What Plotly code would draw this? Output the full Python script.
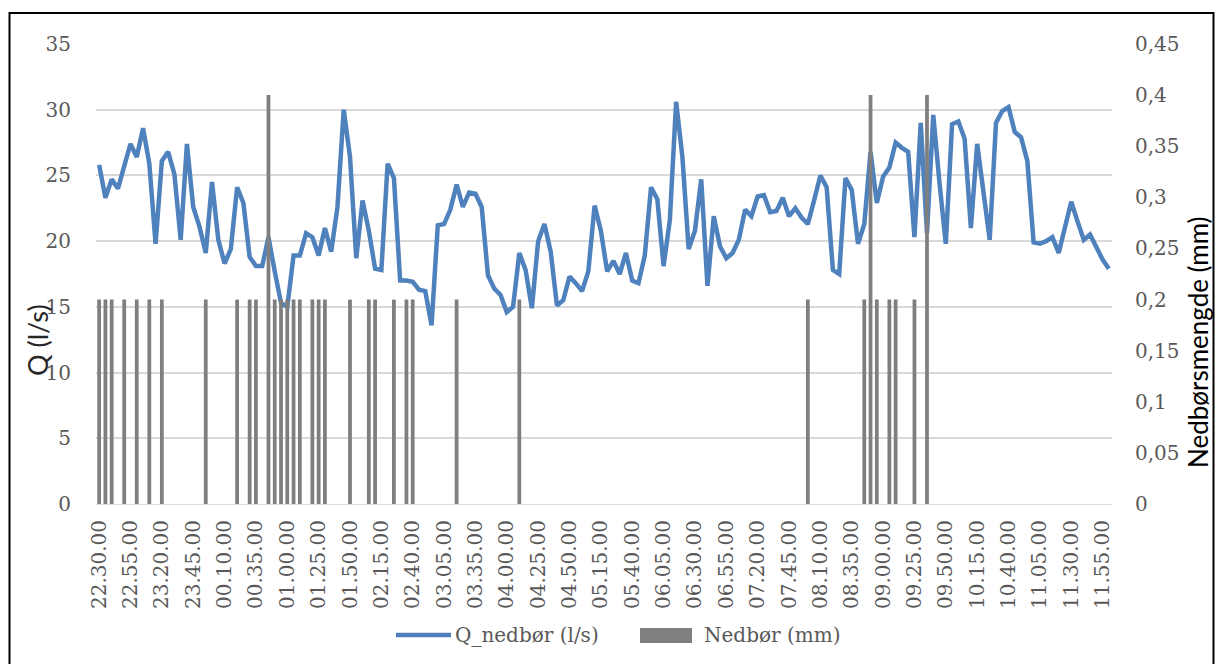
import plotly.graph_objects as go
from datetime import datetime, timedelta

# 5-minute time stamps, 22.30.00 -> 12.00.00 (the 03.10 reading is absent)
times = []
t = datetime(2000, 1, 1, 22, 30)
while len(times) < 162:
    if t.strftime("%H.%M") != "03.10":
        times.append(t.strftime("%H.%M.%S"))
    t += timedelta(minutes=5)

# Flow Q_nedbør (l/s), one value per time stamp
q_nedbor = [
    25.8, 23.3, 24.7, 24.0, 25.7, 27.4, 26.4, 28.6, 25.9, 19.8,
    26.1, 26.8, 25.1, 20.1, 27.4, 22.6, 21.1, 19.1, 24.5, 20.1,
    18.3, 19.4, 24.1, 22.9, 18.8, 18.1, 18.1, 20.3, 17.7, 15.3,
    15.0, 18.9, 18.9, 20.6, 20.3, 18.9, 21.0, 19.2, 22.6, 30.0,
    26.4, 18.7, 23.1, 20.8, 17.9, 17.8, 25.9, 24.8, 17.0, 17.0,
    16.9, 16.3, 16.2, 13.6, 21.2, 21.3, 22.4, 24.3, 22.6, 23.7,
    23.6, 22.6, 17.4, 16.4, 15.9, 14.6, 15.0, 19.1, 17.8, 14.9,
    20.0, 21.3, 19.2, 15.1, 15.5, 17.3, 16.8, 16.2, 17.7, 22.7,
    20.8, 17.7, 18.5, 17.5, 19.1, 17.0, 16.8, 18.9, 24.1, 23.2,
    18.1, 21.6, 30.6, 26.4, 19.4, 20.8, 24.7, 16.6, 21.9, 19.6,
    18.7, 19.1, 20.1, 22.4, 21.9, 23.4, 23.5, 22.2, 22.3, 23.3,
    21.9, 22.5, 21.8, 21.3, 23.1, 25.0, 24.1, 17.8, 17.5, 24.8,
    23.9, 19.8, 21.3, 26.8, 22.9, 24.9, 25.6, 27.5, 27.1, 26.8,
    20.3, 29.0, 20.6, 29.6, 24.4, 19.8, 28.9, 29.1, 27.8, 21.0,
    27.4, 23.9, 20.1, 29.0, 29.9, 30.2, 28.3, 27.9, 26.1, 19.9,
    19.8, 20.0, 20.3, 19.1, 21.1, 23.0, 21.5, 20.1, 20.5, 19.6,
    18.6, 17.9,
]

# Precipitation (mm): time-stamp positions with rain, and the amount
nedbor_slot = [0, 1, 2, 4, 6, 8, 10, 17, 22, 24, 25, 27, 28, 29, 30, 31, 32,
               34, 35, 36, 40, 43, 44, 47, 49, 50, 57, 67, 113, 122, 123, 124,
               126, 127, 130, 132]
nedbor_mm = [0.2, 0.2, 0.2, 0.2, 0.2, 0.2, 0.2, 0.2, 0.2, 0.2, 0.2, 0.4, 0.2,
             0.2, 0.2, 0.2, 0.2, 0.2, 0.2, 0.2, 0.2, 0.2, 0.2, 0.2, 0.2, 0.2,
             0.2, 0.2, 0.2, 0.2, 0.4, 0.2, 0.2, 0.2, 0.2, 0.4]

nedbor_time = [times[i] for i in nedbor_slot]

SERIF = "DejaVu Serif"
SANS = "Lato"
TICK_COL = "#595959"
Q_COL = "#4F81BD"
BAR_COL = "#7F7F7F"

fig = go.Figure()
fig.add_trace(go.Scatter(
    x=times, y=q_nedbor, mode="lines", name="Q_nedbør (l/s)",
    line=dict(color=Q_COL, width=4.5), yaxis="y", showlegend=False,
))
fig.add_trace(go.Bar(
    x=nedbor_time, y=nedbor_mm, name="Nedbør (mm)", yaxis="y2",
    marker=dict(color=BAR_COL, line=dict(width=0)), width=0.6,
    showlegend=False,
))

W, H = 1216, 664
L, R, T, B = 96, 104, 44, 160
pw, ph = W - L - R, H - T - B


def px(x):
    return (x - L) / pw


def py(y):
    return (H - B - y) / ph


tick_font = dict(family=SERIF, size=20, color=TICK_COL)

# legend row under the time axis
legend_y = 635
legend_shapes = [
    dict(type="line", xref="paper", yref="paper",
         x0=px(396), x1=px(451), y0=py(legend_y), y1=py(legend_y),
         line=dict(color=Q_COL, width=4.5)),
    dict(type="rect", xref="paper", yref="paper",
         x0=px(640), x1=px(692), y0=py(643), y1=py(628),
         line=dict(width=0), fillcolor=BAR_COL),
]
legend_labels = [
    dict(text="Q_nedbør (l/s)", xref="paper", yref="paper",
         x=px(453), y=py(legend_y), xanchor="left", yanchor="middle",
         showarrow=False, font=tick_font),
    dict(text="Nedbør (mm)", xref="paper", yref="paper",
         x=px(702), y=py(legend_y), xanchor="left", yanchor="middle",
         showarrow=False, font=tick_font),
]

fig.update_layout(
    width=W, height=H,
    margin=dict(l=L, r=R, t=T, b=B),
    paper_bgcolor="white", plot_bgcolor="white",
    separators=", ",
    showlegend=False,
    xaxis=dict(
        type="category", categoryorder="array", categoryarray=times,
        range=[-0.5, len(times) - 0.5],
        tickvals=times[::5], ticktext=times[::5], tickangle=-90,
        tickfont=tick_font,
        ticks="outside", ticklen=7, tickcolor="rgba(0,0,0,0)",
        showgrid=False, showline=True, linecolor="#D9D9D9", linewidth=1,
        zeroline=False,
    ),
    yaxis=dict(
        range=[0, 35], dtick=5, tick0=0,
        tickfont=tick_font,
        ticks="outside", ticklen=20, tickcolor="rgba(0,0,0,0)",
        showgrid=True, gridcolor="#D9D9D9", gridwidth=1.5,
        zeroline=False, showline=False,
    ),
    yaxis2=dict(
        range=[0, 0.45], dtick=0.05, tick0=0, overlaying="y", side="right",
        tickfont=tick_font,
        ticks="outside", ticklen=18, tickcolor="rgba(0,0,0,0)",
        showgrid=False, zeroline=False, showline=False,
    ),
    annotations=[
        dict(text="Q (l/s)", xref="paper", yref="paper", x=px(37), y=py(340),
             xanchor="center", yanchor="middle", textangle=-90, showarrow=False,
             font=dict(family=SANS, size=27, color="#262626")),
        dict(text="Nedbørsmengde (mm)", xref="paper", yref="paper",
             x=px(1198), y=py(342), xanchor="center", yanchor="middle",
             textangle=-90, showarrow=False,
             font=dict(family=SANS, size=26, color="#000000")),
    ] + legend_labels,
    shapes=[
        dict(type="rect", xref="paper", yref="paper",
             x0=px(9.5), x1=px(1213.5), y0=py(700), y1=py(13),
             line=dict(color="black", width=2), fillcolor="rgba(0,0,0,0)",
             layer="above"),
    ] + legend_shapes,
)

fig.write_html("out.html")
